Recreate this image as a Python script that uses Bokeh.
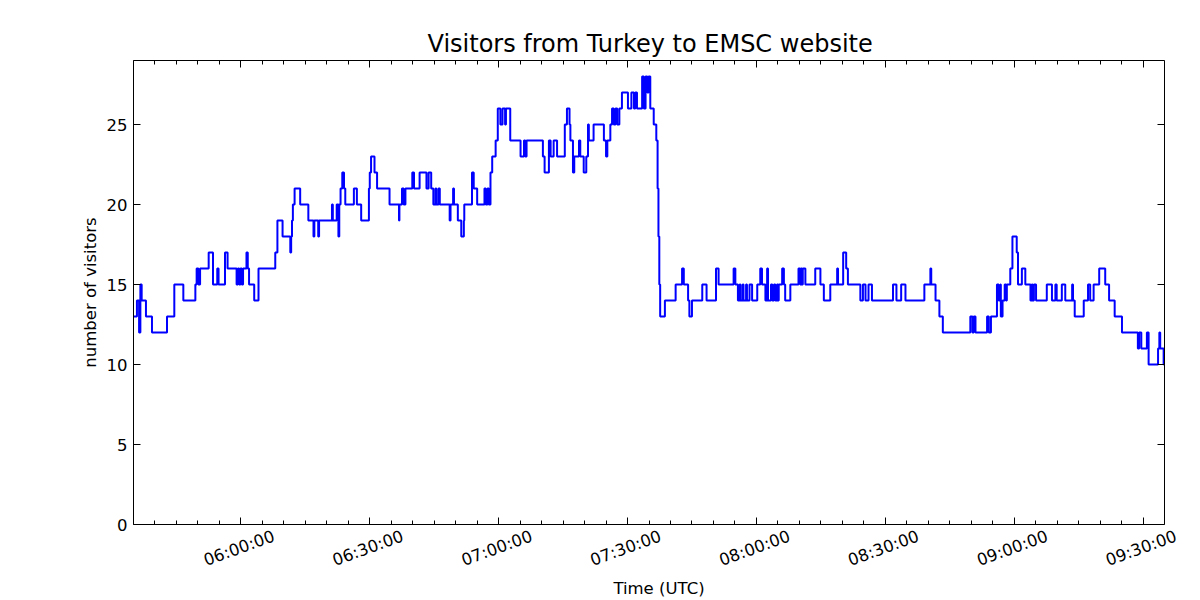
import math
import pandas as pd
from bokeh.plotting import figure
from bokeh.models import (Range1d, FixedTicker, DatetimeTickFormatter, DatetimeAxis,
                          ColumnDataSource, Span)
from bokeh.embed import file_html
from bokeh.resources import INLINE

# ---- data: step changes, minutes after 05:35 UTC, and visitor counts ----
start_time = "2014-01-01 05:35:00"
end_minute = 240.0

minutes_a = [0.0, 0.8, 1.3, 1.6, 1.9, 2.9, 4.3, 7.8, 9.5, 11.6, 14.4, 14.7, 15.1, 15.5,
             17.5, 18.5, 19.5, 19.8, 21.3, 21.9, 24.0, 24.3, 24.6, 24.9, 25.2, 25.5,
             26.3, 26.6, 26.9, 28.1, 29.1, 33.0, 33.5, 34.7, 36.5, 36.7, 36.9, 37.1,
             37.5, 38.8, 40.7, 41.9, 42.1, 43.0, 43.2, 46.2, 46.4, 47.3, 47.7, 47.9, 48.2]
values_a = [13, 14, 12, 15, 14, 13, 12, 13, 15, 14, 15, 16, 15, 16,
            17, 15, 16, 15, 17, 16, 15, 16, 15, 16, 15, 16,
            17, 16, 15, 14, 16, 17, 19, 18, 17, 18, 19, 20,
            21, 20, 19, 18, 19, 18, 19, 20, 19, 20, 18, 20, 21]

minutes_b = [48.6, 49.0, 49.3, 51.3, 52.0, 53.0, 54.8, 55.0, 55.3, 56.1, 56.7, 59.6,
             61.8, 61.9, 62.5, 62.9, 63.3, 64.9, 65.3, 66.6, 68.2, 68.7, 69.3, 69.8,
             70.3, 70.5, 71.0, 71.3, 73.6, 73.8, 74.4, 74.6, 75.5, 76.3, 76.9, 77.0,
             78.8, 79.2, 80.0, 81.7, 82.0, 82.4, 82.7, 83.1, 83.5, 84.3, 84.8, 85.4,
             85.9, 86.5, 86.7, 87.7, 90.1, 90.9, 91.2, 91.5, 95.3, 95.7]
values_b = [22, 21, 20, 21, 20, 19, 21, 22, 23, 22, 21, 20,
            19, 20, 21, 20, 21, 22, 21, 22, 21, 22, 21, 20,
            21, 20, 21, 20, 19, 20, 21, 20, 19, 18, 19, 20,
            22, 21, 20, 21, 20, 21, 20, 22, 23, 24, 26, 25,
            26, 25, 26, 24, 23, 24, 23, 24, 23, 22]

minutes_c = [96.7, 97.1, 97.8, 98.6, 100.4, 100.9, 101.5, 101.7, 102.3, 102.6, 103.7,
             104.0, 104.8, 105.4, 105.8, 106.0, 107.1, 109.5, 110.0, 110.3, 111.0,
             111.4, 111.8, 112.2, 112.6, 113.1, 113.7, 115.1, 115.9, 116.5, 116.8,
             117.2, 118.4, 118.8, 119.2, 119.6, 119.9, 120.3, 121.1, 121.7, 122.0,
             122.2, 122.4, 122.6, 123.7, 126.2, 127.7, 128.1, 129.1, 129.4, 130.0,
             132.4, 133.4, 135.6, 136.2, 139.7, 140.1, 140.7]
values_c = [24, 23, 24, 23, 25, 26, 25, 24, 22, 23, 24,
            23, 22, 23, 25, 24, 25, 24, 23, 24, 25,
            26, 25, 26, 25, 26, 27, 26, 27, 26, 27,
            26, 28, 26, 28, 27, 28, 26, 25, 24, 21,
            18, 15, 13, 14, 15, 16, 15, 14, 13, 14,
            15, 14, 16, 15, 16, 15, 14]

minutes_d = [141.1, 141.3, 141.8, 142.0, 142.6, 142.8, 143.4, 144.0, 145.2, 145.9,
             146.3, 147.1, 147.5, 147.7, 148.4, 148.7, 149.1, 149.4, 149.8, 150.0,
             150.2, 151.0, 151.4, 151.7, 152.9, 154.8, 155.2, 155.4, 155.6, 155.8,
             156.4, 158.7, 159.9, 160.7, 162.2, 163.8, 164.0, 165.2, 165.9, 166.3,
             169.2, 169.8, 170.4, 171.1, 171.9, 176.8, 177.6, 178.7, 179.7, 184.1,
             185.5, 185.7, 186.7, 187.6, 188.4]
values_d = [15, 14, 15, 14, 15, 14, 15, 14, 15, 16,
            15, 14, 16, 14, 15, 14, 15, 14, 15, 14,
            15, 16, 15, 14, 15, 16, 15, 16, 15, 16,
            15, 16, 15, 14, 15, 16, 15, 17, 16, 15,
            14, 15, 14, 15, 14, 15, 14, 15, 14, 15,
            16, 15, 14, 13, 12]

minutes_e = [194.8, 195.3, 195.6, 196.0, 198.7, 199.1, 199.6, 201.0, 201.4, 201.8,
             201.9, 202.3, 202.8, 203.1, 203.3, 204.1, 204.6, 205.6, 205.9, 206.8,
             207.6, 208.8, 209.1, 209.3, 209.6, 210.1, 212.6, 213.8, 214.6, 214.9,
             216.1, 216.9, 218.5, 218.7, 219.1, 221.2, 222.2, 222.7, 223.5, 224.8,
             226.2, 227.1, 228.4, 230.1, 233.8, 234.1, 234.6, 235.9, 236.3, 238.5,
             238.8, 239.0, 239.8]
values_e = [13, 12, 13, 12, 13, 12, 13, 15, 14, 15,
            13, 14, 15, 14, 15, 16, 18, 17, 15, 16,
            15, 14, 15, 14, 15, 14, 15, 14, 15, 14,
            15, 14, 15, 14, 13, 14, 15, 14, 15, 16,
            15, 14, 13, 12, 11, 12, 11, 12, 10, 11,
            12, 11, 10]

major_tick_labels = ["06:00:00", "06:30:00", "07:00:00", "07:30:00",
                     "08:00:00", "08:30:00", "09:00:00", "09:30:00"]
y_ticks = [0, 5, 10, 15, 20, 25]

# ---- build series ----
minutes = minutes_a + minutes_b + minutes_c + minutes_d + minutes_e + [end_minute]
values = values_a + values_b + values_c + values_d + values_e
values = values + [values[-1]]
t0 = pd.Timestamp(start_time)
times = [t0 + pd.Timedelta(minutes=m) for m in minutes]
source = ColumnDataSource(data=dict(t=times, v=values))

def ms(ts):
    return (ts - pd.Timestamp("1970-01-01")).total_seconds() * 1000.0

x_start = ms(t0)
x_end = ms(t0 + pd.Timedelta(minutes=end_minute))
day = t0.strftime("%Y-%m-%d")
major_ms = [ms(pd.Timestamp(day + " " + s)) for s in major_tick_labels]
minor_ms = [x_start + i * 5 * 60000.0 for i in range(0, 49)]

FONT = "DejaVu Sans"

# layout: plot box 133..1164 px; the frame runs 20 px further right so that the
# last rotated tick label (centred under its tick) still has room to be drawn.
box_px = 1031.0
ms_per_px = (x_end - x_start) / box_px
extra_px = 20.0
frame_end = x_end + extra_px * ms_per_px

p = figure(width=1200, height=600, x_axis_type="datetime",
           output_backend="svg", toolbar_location=None,
           x_range=Range1d(x_start, frame_end), y_range=Range1d(0, 29),
           min_border_left=133, min_border_right=16,
           min_border_top=60, min_border_bottom=75,
           title="Visitors from Turkey to EMSC website")
p.background_fill_color = "white"
p.border_fill_color = "white"
p.outline_line_color = None
p.xgrid.visible = False
p.ygrid.visible = False

# title centred over the plot box (not over the wider frame)
p.title.align = "left"
p.title.offset = 294
p.title.text_font = FONT
p.title.text_font_size = "24px"
p.title.text_font_style = "normal"
p.title.text_color = "black"
p.title.standoff = 6

p.step(x="t", y="v", source=source, mode="after", line_color="#0000ff", line_width=2)

fmt = DatetimeTickFormatter(microseconds="%H:%M:%S", milliseconds="%H:%M:%S",
                            seconds="%H:%M:%S", minsec="%H:%M:%S", minutes="%H:%M:%S",
                            hourmin="%H:%M:%S", hours="%H:%M:%S", days="%H:%M:%S",
                            months="%H:%M:%S", years="%H:%M:%S", context=None)
xticker = FixedTicker(ticks=major_ms, minor_ticks=minor_ms)
yticker = FixedTicker(ticks=y_ticks, minor_ticks=[])

def style_ticks(ax):
    ax.axis_line_color = "black"
    ax.major_tick_in = 7
    ax.major_tick_out = 0
    ax.minor_tick_in = 4
    ax.minor_tick_out = 0
    ax.major_tick_line_color = "black"
    ax.minor_tick_line_color = "black"

def hide_labels(ax):
    ax.major_label_text_font_size = "0px"
    ax.major_label_text_color = None
    ax.major_label_standoff = 0

def no_ticks(ax):
    ax.axis_line_color = None
    ax.major_tick_line_color = None
    ax.minor_tick_line_color = None
    ax.major_tick_in = 0
    ax.major_tick_out = 0
    ax.minor_tick_in = 0
    ax.minor_tick_out = 0

def style_text(ax):
    ax.major_label_text_font = FONT
    ax.major_label_text_font_size = "16.5px"
    ax.major_label_text_color = "black"
    ax.axis_label_text_font = FONT
    ax.axis_label_text_font_size = "16.5px"
    ax.axis_label_text_font_style = "normal"
    ax.axis_label_text_color = "black"

# bottom axis: spine + ticks only, limited to the plot box
xa = p.xaxis[0]
xa.ticker = xticker
xa.formatter = fmt
xa.bounds = (x_start, x_end)
style_ticks(xa)
hide_labels(xa)

# bottom label axis: labels centred under ticks (matplotlib-style rotated labels)
label_shift_ms = 7.7 * 60000.0
p.extra_x_ranges = {"lab": Range1d(x_start - label_shift_ms, frame_end - label_shift_ms)}
xl = DatetimeAxis(x_range_name="lab", ticker=xticker, formatter=fmt)
style_text(xl)
no_ticks(xl)
xl.major_label_orientation = math.radians(20)
xl.major_label_standoff = 11
p.add_layout(xl, "below")

# axis title, centred under the plot box
xt = DatetimeAxis(ticker=xticker, formatter=fmt, axis_label="Time (UTC)")
xt.bounds = (x_start, x_end)
style_text(xt)
no_ticks(xt)
hide_labels(xt)
xt.axis_label_standoff = -3
p.add_layout(xt, "below")

ya = p.yaxis[0]
ya.ticker = yticker
ya.axis_label = "number of visitors"
style_ticks(ya)
style_text(ya)
ya.major_label_standoff = 6
ya.axis_label_standoff = 4

top = DatetimeAxis(ticker=xticker, formatter=fmt)
top.bounds = (x_start, x_end)
style_ticks(top)
hide_labels(top)
p.add_layout(top, "above")

# right spine with inward ticks at the edge of the plot box
p.add_layout(Span(location=x_end, dimension="height", line_color="black", line_width=1))
tick_len_ms = 7 * ms_per_px
p.segment(x0=[x_end] * len(y_ticks), x1=[x_end - tick_len_ms] * len(y_ticks),
          y0=y_ticks, y1=y_ticks, line_color="black", line_width=1)

open("out.html", "w").write(file_html(p, INLINE))
